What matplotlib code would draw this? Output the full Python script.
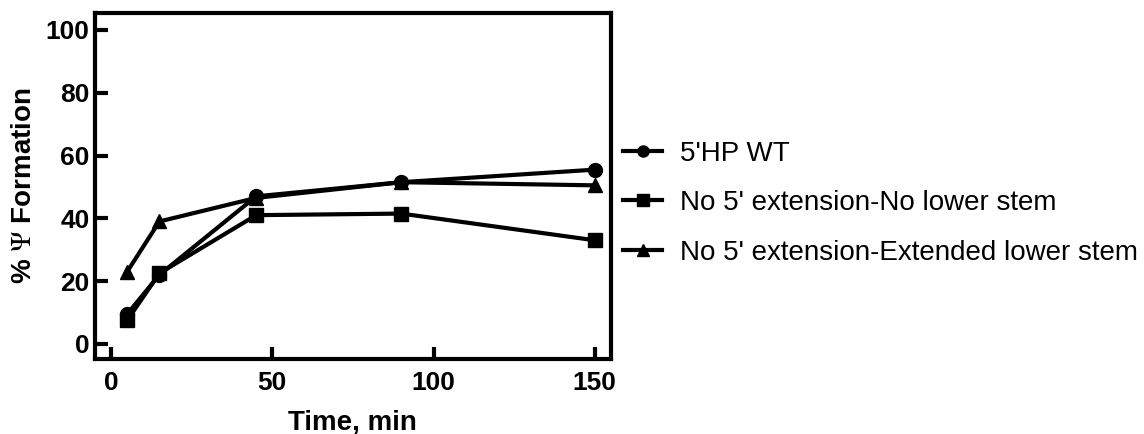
import matplotlib
matplotlib.use("Agg")
import matplotlib.pyplot as plt

plt.rcParams['font.family'] = ['Liberation Sans', 'DejaVu Sans']
plt.rcParams['mathtext.fontset'] = 'stix'

time = [5, 15, 45, 90, 150]
wt = [9.5, 22, 47, 51.5, 55.5]
no_lower = [7.5, 22.5, 41, 41.5, 33]
ext_lower = [23, 39, 46.5, 51.5, 50.5]
labels = ["5'HP WT", "No 5' extension-No lower stem", "No 5' extension-Extended lower stem"]
xticks = [0, 50, 100, 150]
yticks = [0, 20, 40, 60, 80, 100]

fig = plt.figure(figsize=(11.44, 4.34), dpi=100)
ax = fig.add_axes([0.083, 0.173, 0.451, 0.797])

ax.plot(time, wt, '-o', color='black', lw=3, ms=10, label=labels[0])
ax.plot(time, no_lower, '-s', color='black', lw=3, ms=10, label=labels[1])
ax.plot(time, ext_lower, '-^', color='black', lw=3, ms=10, label=labels[2])

ax.set_xlim(-5, 155)
ax.set_ylim(-4.8, 105.4)
ax.set_xticks(xticks)
ax.set_yticks(yticks)
for s in ax.spines.values():
    s.set_linewidth(3)
ax.tick_params(direction='in', length=9, width=3, labelsize=19)
ax.tick_params(axis='x', pad=9)
ax.tick_params(axis='y', pad=4)
for lab in ax.get_xticklabels() + ax.get_yticklabels():
    lab.set_fontweight('bold')

ax.set_xlabel('Time, min', fontsize=20, fontweight='bold', labelpad=10)
ax.set_ylabel(r'% $\mathrm{\Psi}$ Formation', fontsize=20, fontweight='bold', labelpad=6)

leg = fig.legend(loc='center left', bbox_to_anchor=(0.535, 0.532), frameon=False,
                 fontsize=20, handlelength=1.4, labelspacing=0.85, handletextpad=0.65,
                 borderaxespad=0, markerscale=0.8)

fig.savefig('out.png', dpi=100)
